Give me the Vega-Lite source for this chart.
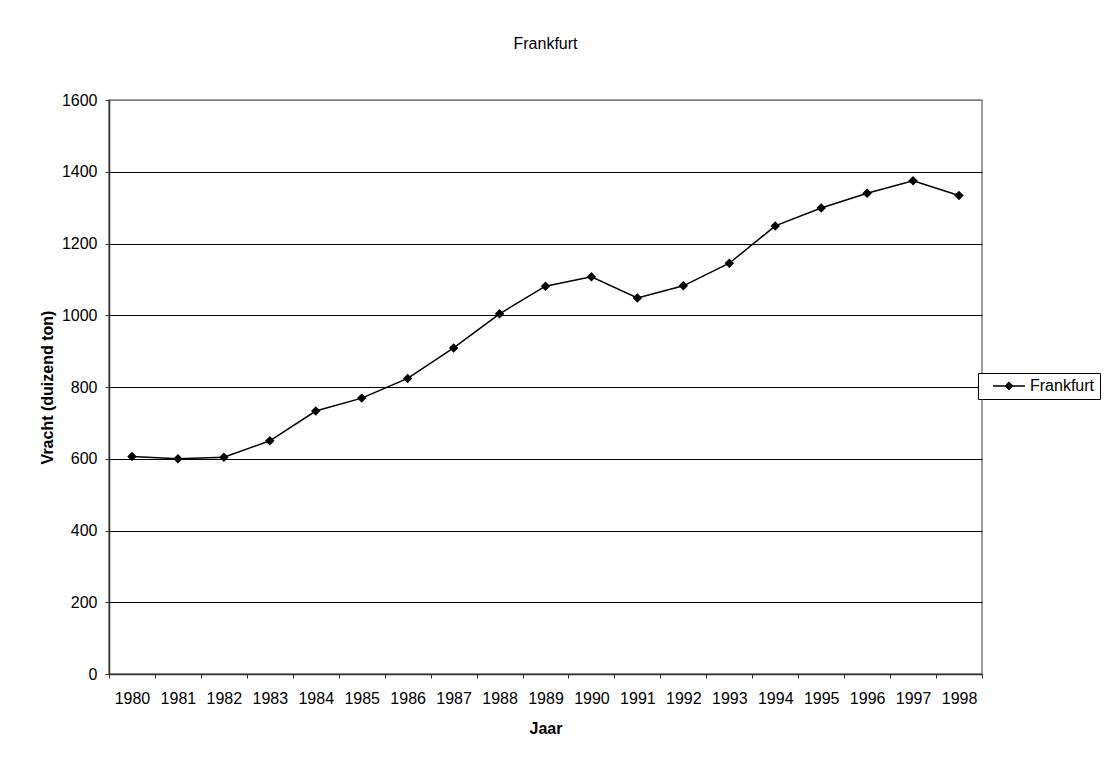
{
  "$schema": "https://vega.github.io/schema/vega-lite/v6.json",
  "width": 873,
  "height": 574,
  "autosize": {"type": "none"},
  "padding": {"left": 109, "top": 100, "right": 127, "bottom": 86},
  "background": "white",
  "config": {
    "font": "Liberation Sans",
    "view": {"stroke": "#808080", "strokeWidth": 1.5}
  },
  "title": {
    "text": "Frankfurt",
    "fontSize": 16,
    "fontWeight": "normal",
    "font": "Liberation Sans",
    "color": "black",
    "anchor": "middle",
    "frame": "group",
    "offset": 40
  },
  "data": {
    "values": [
      {"year": "1980", "vracht": 606, "city": "Frankfurt"},
      {"year": "1981", "vracht": 600, "city": "Frankfurt"},
      {"year": "1982", "vracht": 604, "city": "Frankfurt"},
      {"year": "1983", "vracht": 650, "city": "Frankfurt"},
      {"year": "1984", "vracht": 733, "city": "Frankfurt"},
      {"year": "1985", "vracht": 769, "city": "Frankfurt"},
      {"year": "1986", "vracht": 824, "city": "Frankfurt"},
      {"year": "1987", "vracht": 909, "city": "Frankfurt"},
      {"year": "1988", "vracht": 1004, "city": "Frankfurt"},
      {"year": "1989", "vracht": 1081, "city": "Frankfurt"},
      {"year": "1990", "vracht": 1107, "city": "Frankfurt"},
      {"year": "1991", "vracht": 1048, "city": "Frankfurt"},
      {"year": "1992", "vracht": 1082, "city": "Frankfurt"},
      {"year": "1993", "vracht": 1145, "city": "Frankfurt"},
      {"year": "1994", "vracht": 1249, "city": "Frankfurt"},
      {"year": "1995", "vracht": 1299, "city": "Frankfurt"},
      {"year": "1996", "vracht": 1340, "city": "Frankfurt"},
      {"year": "1997", "vracht": 1375, "city": "Frankfurt"},
      {"year": "1998", "vracht": 1334, "city": "Frankfurt"}
    ]
  },
  "mark": {
    "type": "line",
    "strokeWidth": 1.5,
    "point": {"filled": true, "shape": "diamond", "size": 90, "color": "black"}
  },
  "encoding": {
    "x": {
      "field": "year",
      "type": "ordinal",
      "bandPosition": 0.5,
      "scale": {"type": "band", "paddingInner": 0, "paddingOuter": 0},
      "axis": {
        "title": "Jaar",
        "titleFontSize": 16,
        "titleFontWeight": "bold",
        "titleColor": "black",
        "titlePadding": 14,
        "labelAngle": 0,
        "labelFontSize": 16,
        "labelColor": "black",
        "labelPadding": 12,
        "tickBand": "extent",
        "tickSize": 4,
        "tickColor": "#333333",
        "domainColor": "#333333",
        "domainWidth": 1.5,
        "grid": false
      }
    },
    "y": {
      "field": "vracht",
      "type": "quantitative",
      "scale": {"domain": [0, 1600], "nice": false},
      "axis": {
        "title": "Vracht (duizend ton)",
        "titleFontSize": 16,
        "titleFontWeight": "bold",
        "titleColor": "black",
        "titlePadding": 6,
        "values": [0, 200, 400, 600, 800, 1000, 1200, 1400, 1600],
        "format": "d",
        "labelFontSize": 16,
        "labelColor": "black",
        "labelPadding": 8,
        "tickSize": 4,
        "tickColor": "#333333",
        "domainColor": "#333333",
        "domainWidth": 1.5,
        "grid": true,
        "gridColor": {"condition": {"test": "datum.value === 1600", "value": "#808080"}, "value": "black"},
        "gridWidth": 1
      }
    },
    "color": {
      "field": "city",
      "type": "nominal",
      "scale": {"range": ["black"]},
      "legend": {
        "title": null,
        "orient": "none",
        "legendX": 869,
        "legendY": 273,
        "strokeColor": "black",
        "fillColor": "white",
        "padding": 5,
        "symbolType": "M-1,0L1,0M0,-0.22L0.22,0L0,0.22L-0.22,0Z",
        "symbolSize": 1024,
        "symbolStrokeWidth": 1.5,
        "symbolFillColor": "black",
        "symbolStrokeColor": "black",
        "symbolOffset": 9,
        "clipHeight": 16,
        "labelFontSize": 16,
        "labelColor": "black",
        "labelOffset": 4,
        "encode": {"symbols": {"update": {"fill": {"value": "black"}, "stroke": {"value": "black"}}}}
      }
    }
  }
}
